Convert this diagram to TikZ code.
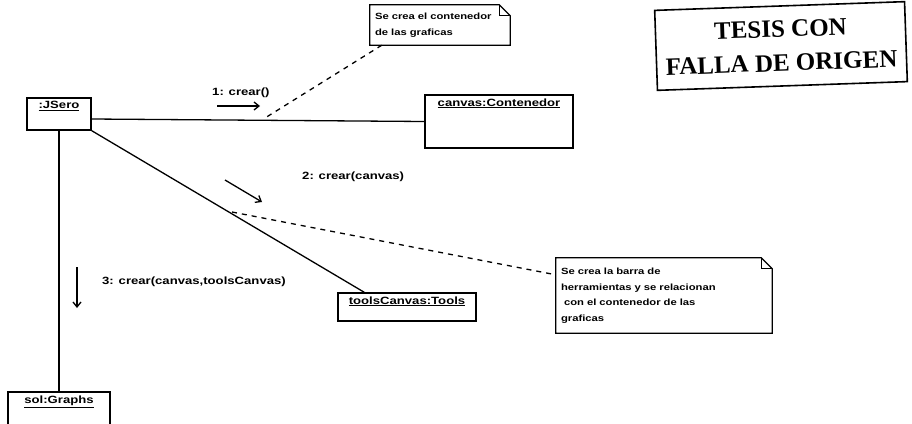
\documentclass[tikz,border=0pt]{standalone}
\usepackage{fontspec}
\setmainfont{Liberation Sans}
\newfontfamily\umlfont[FakeStretch=1.25]{Liberation Sans}
\newfontfamily\sellofont{Liberation Serif}
\usetikzlibrary{arrows.meta,positioning}

\newcommand{\notafold}[1]{%
  \draw[line width=1.2pt] (#1.south west) -- (#1.north west) -- ([xshift=-11pt]#1.north east)
    -- ([yshift=-11pt]#1.north east) -- (#1.south east) -- cycle;
  \draw[line width=1.2pt] ([xshift=-11pt]#1.north east) -- ([xshift=-11pt,yshift=-11pt]#1.north east)
    -- ([yshift=-11pt]#1.north east);}

\begin{document}
\begin{tikzpicture}[
            x=1pt, y=-1pt,
            obj/.style={draw, line width=1.3pt, inner sep=0pt},
            objlbl/.style={anchor=north, yshift=-4pt, inner sep=0pt, font=\umlfont\bfseries\fontsize{10.5}{12}\selectfont},
            msg/.style={inner sep=0pt, font=\umlfont\bfseries\fontsize{10.5}{12}\selectfont},
            nota/.style={inner sep=5pt, align=left, font=\umlfont\bfseries\fontsize{9}{15.5}\selectfont},
            link/.style={line width=1.3pt},
            dashlink/.style={line width=1.3pt, dash pattern=on 5pt off 5pt},
            >={Straight Barb[length=5pt, width=8pt]}
        ]
        \useasboundingbox (0,0) rectangle (912,423);

        \node[obj, minimum width=64pt, minimum height=32pt, label={[objlbl]north:\underline{:JSero}}] (jsero) at (59,114) {};
        \node[obj, minimum width=148pt, minimum height=53pt, label={[objlbl]north:\underline{canvas:Contenedor}}] (canvas) at (499,121.5) {};
        \node[obj, minimum width=138pt, minimum height=28pt, label={[objlbl]north:\underline{toolsCanvas:Tools}}] (tools) at (407,307) {};
        \node[obj, minimum width=102pt, minimum height=50pt, label={[objlbl]north:\underline{sol:Graphs}}] (sol) at (59,417) {};

        \node[nota, text width=130pt, minimum height=40pt] (nota1) at (440,25) {Se crea el contenedor\\de las graficas};
        \node[nota, text width=206pt, minimum height=75pt] (nota2) at (664,295.5) {Se crea la barra de\\herramientas y se relacionan\\\ con el contenedor de las\\graficas};
        \notafold{nota1}
        \notafold{nota2}

        \node[draw, line width=1.6pt, minimum width=250pt, minimum height=80pt, rotate=2, align=center,
              font=\sellofont\bfseries\fontsize{25}{34}\selectfont] (sello) at (781,46) {TESIS CON\\FALLA DE ORIGEN};

        \node[msg, anchor=west] (m1) at (212,93) {1: crear()};
        \node[msg, anchor=west] (m2) at (302,177) {2: crear(canvas)};
        \node[msg, anchor=west] (m3) at (102,282) {3: crear(canvas,toolsCanvas)};

        \coordinate (a1s) at (217,106);
        \coordinate (a1e) at (260,106);
        \coordinate (a2s) at (225,180);
        \coordinate (a2e) at (262,202);
        \coordinate (a3s) at (77,267);
        \coordinate (a3e) at (77,308);
        \draw[->, link] (a1s) -- (a1e);
        \draw[->, link] (a2s) -- (a2e);
        \draw[->, link] (a3s) -- (a3e);

        \draw[link] ([yshift=-5pt]jsero.east) -- (canvas.west);
        \draw[link] (jsero.south east) -- ([xshift=27pt]tools.north west);
        \draw[link] (jsero) -- (sol);

        \coordinate (p1) at (265,118);
        \coordinate (p2) at (232,212);
        \draw[dashlink] ([xshift=12pt]nota1.south west) -- (p1);
        \draw[dashlink] (p2) -- ([yshift=-17pt]nota2.north west);
    \end{tikzpicture}
\end{document}
